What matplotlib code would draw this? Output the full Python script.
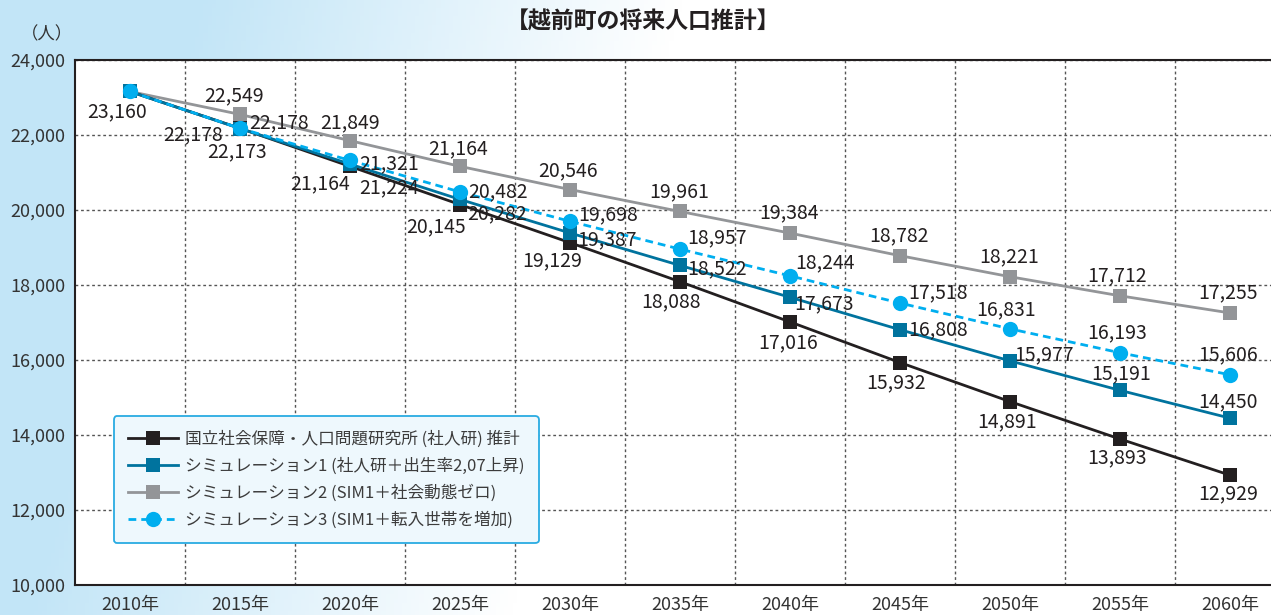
import matplotlib.pyplot as plt
import numpy as np
from matplotlib.colors import LinearSegmentedColormap

plt.rcParams['font.family'] = ['Noto Sans CJK JP', 'DejaVu Sans']

# データ
years = ['2010年', '2015年', '2020年', '2025年', '2030年', '2035年',
         '2040年', '2045年', '2050年', '2055年', '2060年']
ipss = [23160, 22178, 21164, 20145, 19129, 18088, 17016, 15932, 14891, 13893, 12929]
sim1 = [23160, 22173, 21224, 20282, 19387, 18522, 17673, 16808, 15977, 15191, 14450]
sim2 = [23160, 22549, 21849, 21164, 20546, 19961, 19384, 18782, 18221, 17712, 17255]
sim3 = [23160, 22178, 21321, 20482, 19698, 18957, 18244, 17518, 16831, 16193, 15606]

names = ['国立社会保障・人口問題研究所 (社人研) 推計',
         'シミュレーション1 (社人研＋出生率2,07上昇)',
         'シミュレーション2 (SIM1＋社会動態ゼロ)',
         'シミュレーション3 (SIM1＋転入世帯を増加)']

# ラベル位置 (ピクセル, None = 表示なし)
off_ipss = [(-13, -20), (-47, -6), (-30, -17), (-24, -22), (-18, -18), (-9, -20),
            (-2, -21), (-4, -20), (-3, -20), (-3, -19), (-2, -19)]
off_sim1 = [None, (-3, -23), (39, -24), (37, -14), (37, -7), (37, -3),
            (34, -7), (38, 0), (34, 6), (1, 17), (-2, 16)]
off_sim2 = [None, (-6, 19), (0, 18), (-2, 18), (-2, 19), (-1, 20),
            (-1, 20), (-1, 20), (-1, 20), (-3, 20), (-2, 20)]
off_sim3 = [None, (39, 6), (39, -3), (38, 0), (38, 7), (37, 11),
            (35, 13), (38, 10), (-4, 19), (-3, 20), (-2, 20)]

fig = plt.figure(figsize=(12.71, 6.15), dpi=100)

# 背景 (空のグラデーション)
bg = fig.add_axes([0, 0, 1, 1], zorder=0)
gx, gy = np.meshgrid(np.linspace(0, 1, 300), np.linspace(0, 1, 150))
shade = np.clip(1.05 - 2.6 * gx + 0.35 * (1 - gy), 0, 1)
cmap = LinearSegmentedColormap.from_list('sky', ['#ffffff', '#c2e5f7'])
bg.imshow(shade, cmap=cmap, aspect='auto', extent=(0, 1, 0, 1), vmin=0, vmax=1)
bg.axis('off')

ax = fig.add_axes([75 / 1271, 30 / 615, 1210 / 1271, 525 / 615], zorder=1)
ax.set_facecolor('white')

x = np.arange(len(years))
series = [
    (sim2, '#939598', '-', 's', 10, off_sim2, names[2]),
    (ipss, '#231f20', '-', 's', 10, off_ipss, names[0]),
    (sim1, '#00739e', '-', 's', 10, off_sim1, names[1]),
    (sim3, '#00aeef', (0, (2.8, 1.8)), 'o', 11, off_sim3, names[3]),
]
handles = {}
for vals, col, ls, mk, ms, offs, nm in series:
    ln, = ax.plot(x, vals, color=col, linestyle=ls, linewidth=2, marker=mk,
                  markersize=ms, markeredgewidth=0, label=nm, zorder=3)
    handles[nm] = ln
    for i, v in enumerate(vals):
        if offs[i] is None:
            continue
        ax.annotate(f'{v:,}', (x[i], v), xytext=offs[i], textcoords='offset pixels',
                    ha='center', va='center', fontsize=14, color='#231f20', zorder=4)

ax.set_xlim(-0.5, len(years) - 0.5)
ax.set_ylim(10000, 24000)
ax.set_yticks(np.arange(10000, 24001, 2000))
ax.set_yticklabels([f'{t:,}' for t in range(10000, 24001, 2000)])
ax.set_xticks(x)
ax.set_xticklabels(years)
ax.set_xticks(x[:-1] + 0.5, minor=True)
ax.tick_params(axis='both', which='both', length=0, labelsize=13, colors='#333333')
ax.tick_params(axis='x', pad=8)
ax.tick_params(axis='y', pad=7)
ax.grid(axis='y', which='major', color='#555555', linestyle=(0, (2, 2)), linewidth=1)
ax.grid(axis='x', which='minor', color='#555555', linestyle=(0, (2, 2)), linewidth=1)
ax.grid(axis='x', which='major', visible=False)
ax.set_axisbelow(True)
for s in ['left', 'bottom', 'top']:
    ax.spines[s].set_color('#231f20')
    ax.spines[s].set_linewidth(1.5)
ax.spines['right'].set_visible(False)

leg = ax.legend([handles[n] for n in names], names, loc='lower left',
                bbox_to_anchor=(114 / 1271, 1 - 543 / 615), bbox_transform=fig.transFigure,
                borderaxespad=0, fontsize=12, handlelength=3.0, labelspacing=0.58,
                borderpad=0.85, handletextpad=0.4, fancybox=True,
                facecolor='#eef8fd', edgecolor='#29abe2', framealpha=1)
leg.get_frame().set_linewidth(1.3)
for t in leg.get_texts():
    t.set_color('#3c3c3c')

fig.text(643 / 1271, 1 - 22 / 615, '【越前町の将来人口推計】', ha='center', va='center',
         fontsize=16.5, fontweight='bold', color='#231f20')
fig.text(47 / 1271, 1 - 34 / 615, '（人）', ha='center', va='center',
         fontsize=12.5, color='#333333')

fig.savefig('out.png', dpi=100)
